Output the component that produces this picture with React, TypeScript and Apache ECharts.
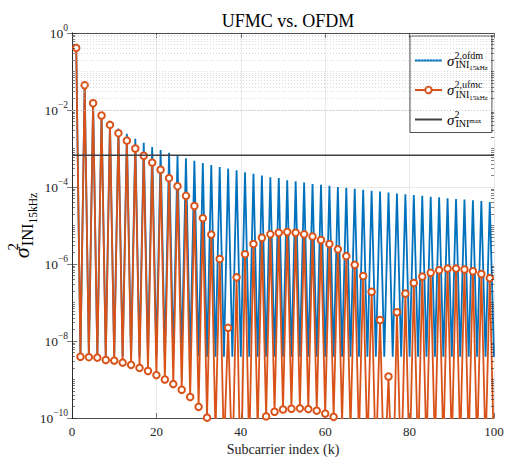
import React, { useEffect, useRef } from 'react';
import * as echarts from 'echarts';

// ---- data ----
// OFDM: value at odd subcarriers k = 1, 3, ..., 99
const ofdmOddPeaks = [
  0.41, 0.045, 0.016, 0.0083, 0.005, 0.0033, 0.0024, 0.0018, 0.0014, 0.0011,
  9.2e-4, 7.7e-4, 6.5e-4, 5.6e-4, 4.8e-4, 4.2e-4, 3.7e-4, 3.3e-4, 3.0e-4, 2.7e-4,
  2.4e-4, 2.2e-4, 2.0e-4, 1.8e-4, 1.7e-4, 1.5e-4, 1.4e-4, 1.3e-4, 1.2e-4, 1.15e-4,
  1.08e-4, 1.0e-4, 9.6e-5, 9.0e-5, 8.5e-5, 8.0e-5, 7.6e-5, 7.2e-5, 6.8e-5, 6.5e-5,
  6.2e-5, 5.9e-5, 5.6e-5, 5.4e-5, 5.1e-5, 4.9e-5, 4.7e-5, 4.5e-5, 4.3e-5, 4.1e-5,
];
// OFDM: value at even subcarriers k = 2, 4, ..., 100 (flat floor)
const ofdmEvenFloor = 3.9e-9;

// UFMC: value at odd subcarriers k = 1, 3, ..., 99
const ufmcOddPeaks = [
  0.41, 0.044, 0.015, 0.0072, 0.0041, 0.0025, 0.0016, 0.001, 6.5e-4, 4.3e-4,
  2.8e-4, 1.7e-4, 1.05e-4, 5.9e-5, 3.2e-5, 1.55e-5, 5.8e-6, 1.35e-6, 2.2e-8, 4.5e-7,
  1.8e-6, 3.3e-6, 4.8e-6, 5.9e-6, 6.5e-6, 6.8e-6, 6.5e-6, 5.9e-6, 5.2e-6, 4.2e-6,
  3.3e-6, 2.4e-6, 1.6e-6, 9.5e-7, 4.9e-7, 1.9e-7, 3.5e-8, 1.2e-9, 5.6e-8, 1.7e-7,
  3.2e-7, 4.7e-7, 5.9e-7, 6.9e-7, 7.6e-7, 7.6e-7, 7.2e-7, 6.5e-7, 5.5e-7, 4.3e-7,
];
// UFMC: value at even subcarriers k = 2, 4, ..., 100
const ufmcEvenValues = [
  3.9e-9, 3.8e-9, 3.7e-9, 3.2e-9, 3.1e-9, 2.75e-9, 2.4e-9, 2.0e-9, 1.66e-9, 1.3e-9,
  1.0e-9, 7.6e-10, 5.4e-10, 3.5e-10, 1.95e-10, 1.02e-10, 4e-11, 1.5e-11, 4e-12, 1e-12,
  1.5e-11, 5e-11, 1.1e-10, 1.45e-10, 1.66e-10, 1.74e-10, 1.78e-10, 1.7e-10, 1.55e-10, 1.3e-10,
  1.07e-10, 8e-11, 5e-11, 3e-11, 1.5e-11, 6e-12, 2e-12, 5e-13, 2e-12, 5e-12,
  9e-12, 1.3e-11, 1.6e-11, 1.8e-11, 1.9e-11, 1.9e-11, 1.8e-11, 1.6e-11, 1.4e-11, 1.1e-11,
];
// maximum allowed INI level (horizontal line)
const maxLevel = 6.7e-4;
const xRange = [0, 100];
const xTickStep = 20;
const yRange = [1e-10, 1];

const seriesNames = ['ofdm', 'ufmc', 'max'];

const FONT = '"Liberation Serif", "DejaVu Serif", serif';
const BLUE = '#0072BD';
const ORANGE = '#D95319';
const DARK = '#404040';

function buildPairs(odd: number[], even: number[] | number) {
  const out: [number, number][] = [];
  for (let i = 0; i < odd.length; i++) {
    out.push([2 * i + 1, odd[i]]);
    const ev = Array.isArray(even) ? even[i] : even;
    out.push([2 * i + 2, ev]);
  }
  return out;
}

const legendLabels: Record<string, string> = {
  ofdm: '{s|σ}{sup|2,ofdm}{sub|INI}{subsub|15kHz}',
  ufmc: '{s|σ}{sup|2,ufmc}{sub|INI}{subsub|15kHz}',
  max: '{s|σ}{sup|2}{sub|INI}{subsup|max}',
};

const legendRich = {
  s: { fontFamily: FONT, fontSize: 15, fontStyle: 'italic', color: '#000' },
  sup: { fontFamily: FONT, fontSize: 10, color: '#000', padding: [0, 0, 11, 0], width: 1 },
  sub: { fontFamily: FONT, fontSize: 10, color: '#000', padding: [8, 0, 0, 0] },
  subsub: { fontFamily: FONT, fontSize: 7, color: '#000', padding: [15, 0, 0, 0] },
  subsup: { fontFamily: FONT, fontSize: 7, color: '#000', padding: [2, 0, 0, 0] },
};

const nameRich = {
  s: { fontFamily: FONT, fontSize: 22, fontStyle: 'italic', color: '#000' },
  sup: { fontFamily: FONT, fontSize: 15, color: '#000', padding: [0, 0, 17, 0], width: 1 },
  sub: { fontFamily: FONT, fontSize: 16.5, color: '#000', padding: [12, 0, 0, 0] },
  subsub: { fontFamily: FONT, fontSize: 11.5, color: '#000', padding: [24, 0, 0, 0] },
};

export default function App() {
  const ref = useRef<HTMLDivElement>(null);
  useEffect(() => {
    if (!ref.current) return;
    const chart = echarts.init(ref.current, undefined, { renderer: 'svg' });

    // minor log grid positions (2..9 x 10^n and odd decades)
    const minorVals: number[] = [];
    for (let n = -10; n < 0; n++) {
      if (n % 2 !== 0) minorVals.push(Math.pow(10, n));
      for (let m = 2; m <= 9; m++) minorVals.push(m * Math.pow(10, n));
    }
    const gridLineStyle = { color: '#c4c4c4', width: 0.6, type: [1, 2] as any };
    const tickStyle = { color: '#262626', width: 0.6, type: 'solid' as const };
    const markData: any[] = [];
    minorVals.forEach((v) => {
      markData.push({ yAxis: v, lineStyle: gridLineStyle });
    });
    minorVals.forEach((v) => {
      markData.push([
        { coord: [xRange[0], v], lineStyle: tickStyle },
        { coord: [xRange[0] + 0.7, v] },
      ]);
      markData.push([
        { coord: [xRange[1], v], lineStyle: tickStyle },
        { coord: [xRange[1] - 0.7, v] },
      ]);
    });

    const axisLineStyle = { color: '#262626', width: 0.8 };
    const yAxisBase = {
      type: 'log' as const,
      logBase: 10,
      min: yRange[0],
      max: yRange[1],
      splitNumber: 5,
      interval: 2,
      axisLine: { show: true, lineStyle: axisLineStyle },
      axisTick: { show: true, inside: true, length: 5, lineStyle: { color: '#262626', width: 0.6 } },
      minorTick: { show: false },
    };

    chart.setOption({
      animation: false,
      backgroundColor: '#fff',
      title: {
        text: 'UFMC vs. OFDM',
        left: 283,
        top: 7,
        textAlign: 'center',
        textStyle: { fontFamily: FONT, fontSize: 18, fontWeight: 'normal', color: '#000' },
      },
      grid: {
        left: 72,
        right: 22,
        top: 33,
        bottom: 43,
        containLabel: false,
        outerBoundsMode: 'none',
      },
      legend: {
        orient: 'vertical',
        left: 410,
        top: 36,
        width: 78,
        itemWidth: 27,
        itemHeight: 8,
        itemGap: 8,
        padding: [14, 4, 4, 4],
        backgroundColor: '#fff',
        borderColor: '#262626',
        borderWidth: 0.8,
        borderRadius: 0,
        data: [
          { name: seriesNames[0], itemStyle: { opacity: 0 } },
          { name: seriesNames[1] },
          { name: seriesNames[2], itemStyle: { opacity: 0 } },
        ],
        formatter: (n: string) => legendLabels[n],
        textStyle: { fontFamily: FONT, color: '#000', rich: legendRich },
      },
      xAxis: [
        {
          type: 'value',
          min: xRange[0],
          max: xRange[1],
          interval: xTickStep,
          position: 'bottom',
          name: 'Subcarrier index (k)',
          nameLocation: 'middle',
          nameGap: 24,
          nameTextStyle: { fontFamily: FONT, fontSize: 14, color: '#262626' },
          axisLine: { show: true, lineStyle: axisLineStyle },
          axisTick: { show: true, inside: true, length: 5, lineStyle: { color: '#262626', width: 0.6 } },
          axisLabel: { fontFamily: FONT, fontSize: 13, color: '#262626', margin: 7 },
          splitLine: { show: true, lineStyle: { color: '#e3e3e3', width: 0.8 } },
        },
        {
          type: 'value',
          min: xRange[0],
          max: xRange[1],
          interval: xTickStep,
          position: 'top',
          axisLine: { show: true, lineStyle: axisLineStyle },
          axisTick: { show: true, inside: true, length: 5, lineStyle: { color: '#262626', width: 0.6 } },
          axisLabel: { show: false },
          splitLine: { show: false },
        },
      ],
      yAxis: [
        {
          ...yAxisBase,
          position: 'left',
          name: '{s|σ}{sup|2}{sub|INI}{subsub|15kHz}',
          nameLocation: 'middle',
          nameRotate: 90,
          nameGap: 33,
          nameMoveOverlap: false,
          nameTextStyle: { fontFamily: FONT, color: '#000', rich: nameRich },
          axisLabel: {
            margin: 4,
            formatter: (v: number) => {
              const e = Math.round(Math.log10(v));
              if (e % 2 !== 0) return '';
              return `{b|10}{e|${e < 0 ? '−' : ''}${Math.abs(e)}}`;
            },
            rich: {
              b: { fontFamily: FONT, fontSize: 13.5, color: '#262626' },
              e: { fontFamily: FONT, fontSize: 9.5, color: '#262626', padding: [0, 0, 10, 0] },
            },
          },
          splitLine: { show: true, lineStyle: { color: '#e3e3e3', width: 0.8 } },
        },
        {
          ...yAxisBase,
          position: 'right',
          axisLabel: { show: false },
          splitLine: { show: false },
        },
      ],
      series: [
        {
          name: 'minorgrid',
          type: 'line',
          data: [],
          z: 1,
          silent: true,
          xAxisIndex: 0,
          yAxisIndex: 0,
          markLine: {
            silent: true,
            symbol: ['none', 'none'],
            label: { show: false },
            emphasis: { disabled: true },
            animation: false,
            data: markData,
          },
        },
        {
          name: 'ofdm',
          type: 'line',
          z: 3,
          data: buildPairs(ofdmOddPeaks, ofdmEvenFloor),
          showSymbol: false,
          symbol: 'none',
          clip: true,
          lineStyle: { color: BLUE, width: 1.8 },
          itemStyle: { color: BLUE },
        },
        {
          name: 'ufmc',
          type: 'line',
          z: 4,
          data: buildPairs(ufmcOddPeaks, ufmcEvenValues),
          symbol: 'emptyCircle',
          symbolSize: 6.5,
          clip: true,
          lineStyle: { color: ORANGE, width: 1.8 },
          itemStyle: { color: ORANGE, borderColor: ORANGE, borderWidth: 1.6 },
        },
        {
          name: 'max',
          type: 'line',
          z: 5,
          data: [
            [xRange[0], maxLevel],
            [xRange[1], maxLevel],
          ],
          symbol: 'none',
          lineStyle: { color: DARK, width: 1.6 },
          itemStyle: { color: DARK },
        },
      ],
    });
    return () => chart.dispose();
  }, []);
  return (
    <div
      ref={ref}
      style={{ position: 'fixed', left: 0, top: 0, width: 516, height: 461 }}
    />
  );
}
